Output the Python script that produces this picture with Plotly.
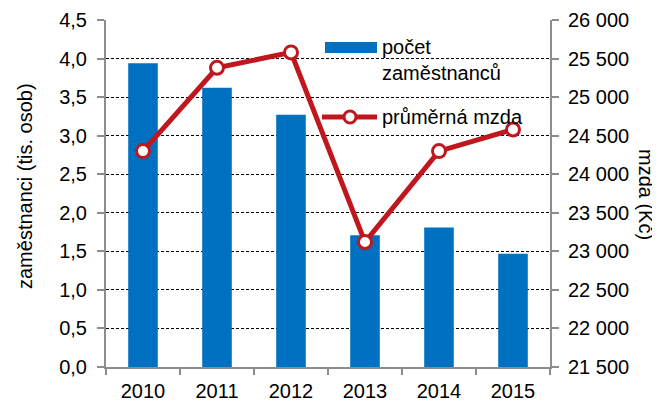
import plotly.graph_objects as go

years = ["2010", "2011", "2012", "2013", "2014", "2015"]
employees = [3.94, 3.62, 3.27, 1.71, 1.81, 1.47]       # tis. osob
wage = [24300, 25380, 25580, 23120, 24300, 24580]       # Kč

BLUE = "#0070C0"
RED = "#C0171F"
GRAY = "#8C8C8C"
FONT = "Liberation Sans, Arial, sans-serif"
FS = 20

# page body has an 8px margin -> compensate so the plot lands where intended
OFF = 8
X0, X1, Y0, Y1 = 106, 550, 20, 367          # target plot area in screen px
W, H = 660 - OFF, 406 - OFF
L, T = X0 - OFF, Y0 - OFF
R, B = W - (X1 - OFF), H - (Y1 - OFF)
PW, PH = X1 - X0, Y1 - Y0

def px(x):
    return (x - X0) / PW

def py(y):
    return (Y1 - y) / PH

fig = go.Figure()
fig.add_trace(go.Bar(x=years, y=employees, marker=dict(color=BLUE, line=dict(width=0)),
                     name="počet zaměstnanců", showlegend=False))
fig.add_trace(go.Scatter(x=years, y=wage, yaxis="y2", mode="lines+markers",
                         line=dict(color=RED, width=5),
                         marker=dict(size=13, color="white", line=dict(color=RED, width=3)),
                         name="průměrná mzda", showlegend=False))

fig.update_layout(
    width=W, height=H,
    margin=dict(l=L, r=R, t=T, b=B, autoexpand=False),
    paper_bgcolor="white", plot_bgcolor="white",
    separators=", ",
    font=dict(family=FONT, size=FS, color="black"),
    bargap=0.6,
    xaxis=dict(type="category", tickson="boundaries", ticks="outside", ticklen=6,
               tickwidth=2, tickcolor=GRAY, showline=True, linecolor=GRAY, linewidth=2,
               showgrid=False, ticklabelstandoff=5, tickfont=dict(size=FS),
               automargin=False),
    yaxis=dict(range=[0, 4.5], dtick=0.5, tickformat=".1f", ticks="outside", ticklen=7,
               tickwidth=2, tickcolor=GRAY, showline=True, linecolor=GRAY, linewidth=2,
               showgrid=True, gridcolor="black", gridwidth=1, griddash="3px,2px",
               zeroline=False, ticklabelstandoff=6, tickfont=dict(size=FS),
               automargin=False),
    yaxis2=dict(range=[21500, 26000], dtick=500, tickformat=",d", overlaying="y",
                side="right", ticks="outside", ticklen=7, tickwidth=2, tickcolor=GRAY,
                showline=True, linecolor=GRAY, linewidth=2, showgrid=False,
                zeroline=False, ticklabelstandoff=5, tickfont=dict(size=FS),
                automargin=False),
)

# axis titles
fig.add_annotation(text="zaměstnanci (tis. osob)", xref="paper", yref="paper",
                   x=px(25), y=py(186), xanchor="center", yanchor="middle",
                   textangle=-90, showarrow=False, font=dict(size=FS))
fig.add_annotation(text="mzda (Kč)", xref="paper", yref="paper",
                   x=px(646), y=py(194), xanchor="center", yanchor="middle",
                   textangle=90, showarrow=False, font=dict(size=FS))

# legend (manual)
fig.add_shape(type="rect", xref="paper", yref="paper",
              x0=px(325), x1=px(377), y0=py(53), y1=py(42),
              fillcolor=BLUE, line=dict(width=0))
fig.add_shape(type="line", xref="paper", yref="paper",
              x0=px(322), x1=px(377), y0=py(117), y1=py(117),
              line=dict(color=RED, width=5))
fig.add_shape(type="circle", xref="paper", yref="paper",
              xsizemode="pixel", ysizemode="pixel",
              xanchor=px(350), yanchor=py(117), x0=-6, x1=6, y0=-6, y1=6,
              fillcolor="white", line=dict(color=RED, width=3))
for txt, yy in [("počet", 47), ("zaměstnanců", 73), ("průměrná mzda", 117)]:
    fig.add_annotation(text=txt, xref="paper", yref="paper", x=px(380), y=py(yy),
                       xanchor="left", yanchor="middle", showarrow=False,
                       font=dict(size=FS))

fig.write_html("out.html")
